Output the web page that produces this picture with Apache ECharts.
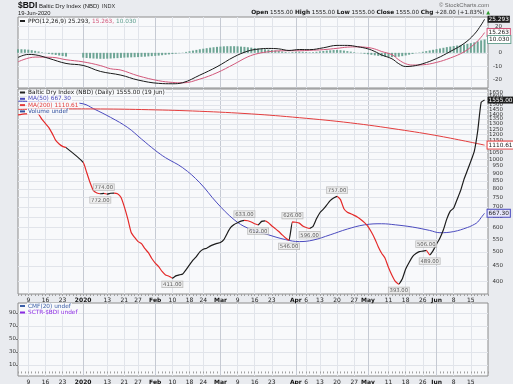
<!DOCTYPE html>
<html><head><meta charset="utf-8">
<script src="https://cdn.jsdelivr.net/npm/echarts@6/dist/echarts.min.js"></script>
<style>html,body{margin:0;padding:0;background:#e9ebef}#c{width:513px;height:384px}</style>
</head><body><div id="c"></div>
<script>
// ---------- axis domain (US trading calendar) ----------
const firstDay = '2019-12-04', lastDay = '2020-06-22';
const holidays = ['2019-12-25','2020-01-01','2020-01-20','2020-02-17','2020-04-10','2020-05-25'];
function tradingDays(from, to, skip) {
  const out = [], d = new Date(from + 'T00:00:00Z'), end = new Date(to + 'T00:00:00Z');
  while (d <= end) {
    const wd = d.getUTCDay(), s = d.toISOString().slice(0, 10);
    if (wd !== 0 && wd !== 6 && skip.indexOf(s) < 0) out.push(s);
    d.setUTCDate(d.getUTCDate() + 1);
  }
  return out;
}
const dates = tradingDays(firstDay, lastDay, holidays);

const tickDates = ['2019-12-09','2019-12-16','2019-12-23','2020-01-02','2020-01-13','2020-01-21','2020-01-27','2020-02-03','2020-02-10','2020-02-18','2020-02-24','2020-03-02','2020-03-09','2020-03-16','2020-03-23','2020-04-01','2020-04-06','2020-04-13','2020-04-20','2020-04-27','2020-05-01','2020-05-11','2020-05-18','2020-05-26','2020-06-01','2020-06-08','2020-06-15'];
const tickLabels = ['9','16','23','2020','13','21','27','Feb','10','18','24','Mar','9','16','23','Apr','6','13','20','27','May','11','18','26','Jun','8','15'];
const monthStarts = ['2020-01-02','2020-02-03','2020-03-02','2020-04-01','2020-05-01','2020-06-01'];
const priceTicks = [400,450,500,550,600,650,700,750,800,850,900,950,1000,1050,1100,1150,1200,1250,1300,1350,1400,1450,1500,1550,1600,1650];
const ppoTicks = [-20,-10,0,10,20];
const pctTicks = [10,30,50,70,90];

// ---------- Baltic Dry Index close ----------
const bdi = [
['2019-12-04',1392],['2019-12-05',1398],['2019-12-06',1402],['2019-12-09',1405],['2019-12-10',1410],['2019-12-11',1412],['2019-12-12',1400],['2019-12-13',1345],['2019-12-16',1305],['2019-12-17',1266],['2019-12-18',1210],['2019-12-19',1150],['2019-12-20',1120],['2019-12-23',1100],['2019-12-24',1090],
['2020-01-02',976],['2020-01-03',907],['2020-01-06',840],['2020-01-07',790],['2020-01-08',776],['2020-01-09',772],['2020-01-10',774],['2020-01-13',770],['2020-01-14',775],['2020-01-15',776],['2020-01-16',772],['2020-01-17',752],['2020-01-21',700],['2020-01-22',640],['2020-01-23',578],['2020-01-24',557],['2020-01-27',540],['2020-01-28',532],['2020-01-29',512],['2020-01-30',497],['2020-01-31',476],
['2020-02-03',460],['2020-02-04',448],['2020-02-05',432],['2020-02-06',421],['2020-02-07',417],['2020-02-10',411],['2020-02-11',418],['2020-02-12',421],['2020-02-13',424],['2020-02-14',438],['2020-02-18',454],['2020-02-19',470],['2020-02-20',483],['2020-02-21',500],['2020-02-24',510],['2020-02-25',514],['2020-02-26',522],['2020-02-27',528],['2020-02-28',533],
['2020-03-02',536],['2020-03-03',548],['2020-03-04',575],['2020-03-05',600],['2020-03-06',614],['2020-03-09',622],['2020-03-10',629],['2020-03-11',633],['2020-03-12',631],['2020-03-13',625],['2020-03-16',617],['2020-03-17',612],['2020-03-18',628],['2020-03-19',630],['2020-03-20',622],['2020-03-23',607],['2020-03-24',595],['2020-03-25',582],['2020-03-26',568],['2020-03-27',555],['2020-03-30',546],['2020-03-31',626],
['2020-04-01',624],['2020-04-02',620],['2020-04-03',607],['2020-04-06',600],['2020-04-07',596],['2020-04-08',605],['2020-04-09',640],['2020-04-13',670],['2020-04-14',688],['2020-04-15',710],['2020-04-16',733],['2020-04-17',748],['2020-04-20',757],['2020-04-21',739],['2020-04-22',690],['2020-04-23',672],['2020-04-24',665],['2020-04-27',657],['2020-04-28',648],['2020-04-29',636],['2020-04-30',622],
['2020-05-01',605],['2020-05-04',580],['2020-05-05',552],['2020-05-06',520],['2020-05-07',495],['2020-05-08',477],['2020-05-11',445],['2020-05-12',420],['2020-05-13',401],['2020-05-14',393],['2020-05-15',408],['2020-05-18',440],['2020-05-19',462],['2020-05-20',483],['2020-05-21',494],['2020-05-22',501],['2020-05-26',503],['2020-05-27',506],['2020-05-28',489],['2020-05-29',505],
['2020-06-01',530],['2020-06-02',555],['2020-06-03',590],['2020-06-04',640],['2020-06-05',678],['2020-06-08',694],['2020-06-09',740],['2020-06-10',790],['2020-06-11',860],['2020-06-12',920],['2020-06-15',985],['2020-06-16',1060],['2020-06-17',1234],['2020-06-18',1527],['2020-06-19',1555]
];
// direction of each leg of the price line, from its start date
const legs = [['2019-12-04','down'],['2019-12-24','gap'],['2020-01-02','down'],['2020-01-09','up'],['2020-01-10','down'],['2020-01-13','up'],['2020-01-15','down'],['2020-02-10','up'],['2020-03-11','down'],['2020-03-17','up'],['2020-03-19','down'],['2020-03-30','up'],['2020-03-31','down'],['2020-04-07','up'],['2020-04-20','down'],['2020-05-14','up'],['2020-05-27','down'],['2020-05-28','up']];
// labelled turning points
const pivots = [['2020-01-09','low'],['2020-01-10','high'],['2020-02-10','low'],['2020-03-11','high'],['2020-03-17','low'],['2020-03-30','low'],['2020-03-31','high'],['2020-04-07','low'],['2020-04-20','high'],['2020-05-14','low'],['2020-05-27','high'],['2020-05-28','low']];

const ma50 = [['2019-12-04',1542],['2019-12-12',1536],['2019-12-24',1528],['2020-01-02',1512],['2020-01-07',1458],['2020-01-14',1366],['2020-01-22',1266],['2020-01-28',1162],['2020-02-03',1068],['2020-02-06',1011],['2020-02-13',938],['2020-02-21',838],['2020-02-28',721],['2020-03-06',636],['2020-03-12',597],['2020-03-20',568],['2020-03-27',548],['2020-04-02',540],['2020-04-08',546],['2020-04-16',568],['2020-04-23',593],['2020-04-30',612],['2020-05-07',617],['2020-05-13',612],['2020-05-20',602],['2020-05-28',587],['2020-06-02',577],['2020-06-08',582],['2020-06-12',600],['2020-06-16',614],['2020-06-17',625],['2020-06-18',646],['2020-06-19',667.30]];
const ma200 = [['2019-12-04',1450],['2019-12-23',1456],['2020-01-09',1455],['2020-01-30',1447],['2020-02-21',1430],['2020-03-13',1402],['2020-04-02',1363],['2020-04-24',1311],['2020-05-14',1248],['2020-06-02',1187],['2020-06-19',1110.61]];

// ---------- PPO(12,26,9) ----------
const ppoLine = [['2019-12-04',-3.5],['2019-12-09',-1.2],['2019-12-11',-1.5],['2019-12-17',-4.2],['2019-12-24',-8.0],['2020-01-02',-9.5],['2020-01-09',-14.0],['2020-01-17',-16.8],['2020-01-27',-20.5],['2020-02-04',-23.0],['2020-02-10',-23.3],['2020-02-13',-22.5],['2020-02-21',-16.8],['2020-02-28',-10.5],['2020-03-06',-3.0],['2020-03-12',1.3],['2020-03-17',2.8],['2020-03-20',3.3],['2020-03-25',3.0],['2020-03-30',1.8],['2020-04-02',2.5],['2020-04-07',2.4],['2020-04-14',3.8],['2020-04-20',5.6],['2020-04-23',5.6],['2020-04-28',4.6],['2020-05-01',3.0],['2020-05-05',1.0],['2020-05-07',-1.6],['2020-05-12',-4.5],['2020-05-14',-8.2],['2020-05-18',-10.3],['2020-05-20',-10.0],['2020-05-26',-8.2],['2020-06-01',-4.3],['2020-06-05',1.0],['2020-06-11',7.0],['2020-06-16',14.0],['2020-06-18',21.0],['2020-06-19',25.293]];
const ppoSignal = [['2019-12-04',-6.8],['2019-12-11',-3.2],['2019-12-18',-3.4],['2019-12-24',-5.2],['2020-01-02',-6.8],['2020-01-09',-9.6],['2020-01-14',-12.0],['2020-01-17',-13.0],['2020-01-27',-17.3],['2020-02-04',-21.0],['2020-02-10',-22.3],['2020-02-13',-22.6],['2020-02-21',-19.8],['2020-02-28',-15.0],['2020-03-06',-8.5],['2020-03-12',-3.0],['2020-03-17',-0.5],['2020-03-20',0.8],['2020-03-25',1.5],['2020-03-30',1.6],['2020-04-02',1.6],['2020-04-07',1.9],['2020-04-14',2.4],['2020-04-20',3.4],['2020-04-23',4.3],['2020-04-28',4.5],['2020-05-01',4.0],['2020-05-05',2.9],['2020-05-07',1.0],['2020-05-12',-1.4],['2020-05-14',-5.3],['2020-05-18',-8.2],['2020-05-20',-9.2],['2020-05-26',-9.0],['2020-06-01',-7.2],['2020-06-05',-3.9],['2020-06-11',0.7],['2020-06-16',6.5],['2020-06-18',11.8],['2020-06-19',15.263]];
// histogram, one value per trading day from 2019-12-04
const ppoHist = [
2.7,2.7,2.6,2.4, 2.0,1.5,1.0,0.4, -0.3,-0.8,-1.2,-1.6,-2.0,-2.4,-2.8, null,null,null,null,
-3.6,-3.9,-4.1,-4.3,-4.4,-4.5,-4.5,-4.4,-4.3, -4.1,-4.0,-3.8,-3.6,-3.5,-3.4,-3.3,-3.2,-3.0,-2.9,
-2.7,-2.5,-2.3,-2.1,-1.8,-1.5,-1.2,-0.9,-0.6,-0.3, 0.2,0.7,1.2,1.7,2.2,2.7,3.1,3.5,3.9,4.2,4.5,
4.7,4.9,5.0,5.0,5.0,4.9,4.7,4.5,4.2,3.9,3.6,3.3, 3.0,2.7,2.4,2.1,1.8,1.4,1.0,0.6,0.3,0.6,0.8,0.9,
0.8,0.6,0.4,0.5,0.8,1.1,1.4,1.7,1.9,2.1,2.2, 2.0,1.7,1.3,0.9,0.5,0.1,-0.3,-0.7,-1.1,-1.5,-1.9,
-2.3,-2.6,-2.9,-3.1,-3.2,-3.1,-2.9,-2.5,-2.0,-1.4,-0.8, -0.2,0.3,0.8,1.3,1.8,2.3,2.8,3.3,3.8,4.3,4.7,
5.1,5.5,5.9,6.3,6.8,7.3,7.9,8.6,9.4,10.03
];

// ---------- rendering ----------
const FONT = 'DejaVu Sans';
const SANS = 'Liberation Sans';
const panelBg = '#f8f9fb', gridCol = '#e1e4ea', monthCol = '#c6cad3', borderCol = '#8c8c8c';
const dirColor = {down:'#e42a2a', up:'#1c1c1c', gap:'#1c1c1c'};
const bdiMap = {}; bdi.forEach(p => bdiMap[p[0]] = p[1]);
const lastBdi = bdi[bdi.length - 1], prevBdi = bdi[bdi.length - 2];
const chg = lastBdi[1] - prevBdi[1];
const last = a => a[a.length - 1][1];
const lastDate = lastBdi[0];
const lastHist = ppoHist[ppoHist.length - 1];
const tickSet = new Set(tickDates);
const fmtTick = v => { const t = tickLabels[tickDates.indexOf(v)]; return monthStarts.indexOf(v) >= 0 ? '{b|' + t + '}' : t; };

const pieces = legs.map((l, k) => {
  const a = dates.indexOf(l[0]);
  if (k < legs.length - 1) return {gte: a, lt: dates.indexOf(legs[k + 1][0]), color: dirColor[l[1]]};
  return {gte: a, lte: dates.length, color: dirColor[l[1]]};
});

function xAx(gi, labels) {
  return {
    type: 'category', gridIndex: gi, data: dates, boundaryGap: false,
    axisLine: {show: false},
    axisTick: {show: labels, interval: 0, length: 2, lineStyle: {color: '#a0a0a0', width: 1}},
    axisLabel: {show: labels, interval: (i, v) => tickSet.has(v), formatter: fmtTick, fontFamily: FONT, fontSize: 6, color: '#222', margin: 3,
      rich: {b: {fontFamily: FONT, fontSize: 6, fontWeight: 'bold', color: '#111'}}},
    splitLine: {show: true, interval: (i, v) => tickSet.has(v), lineStyle: {color: gridCol, width: 1}}
  };
}
function monthLines(xi, yi) {
  return {type: 'line', xAxisIndex: xi, yAxisIndex: yi, data: [], z: 1, silent: true,
    markLine: {z: 1, silent: true, symbol: 'none', animation: false, label: {show: false},
      lineStyle: {color: monthCol, width: 1, type: 'solid'}, data: monthStarts.map(d => ({xAxis: d}))}};
}
function boxLabel(text, bg, border, color) {
  return {show: true, formatter: text, backgroundColor: bg, borderColor: border, borderWidth: border ? 1 : 0,
    color: color, fontFamily: FONT, fontSize: 5.8, padding: [1, 1, 0, 1], distance: 3};
}

const gridBase = {left: 18, right: 25, show: true, backgroundColor: panelBg, borderColor: borderCol, borderWidth: 1, containLabel: false, outerBoundsMode: 'none'};

function legendLine(x, y, color, text, rich) {
  return [
    {type: 'rect', z: 101, shape: {x: x, y: y - 1, width: 5, height: 2}, style: {fill: color}},
    {type: 'text', z: 101, x: x + 7, y: y, style: {text: text, fill: color, font: '5.8px ' + FONT, textVerticalAlign: 'middle', backgroundColor: panelBg, padding: [0, 1], rich: rich}}
  ];
}

const richPPO = {
  k: {fill: '#222', font: '5.8px ' + FONT}, s: {fill: '#d2577a', font: '5.8px ' + FONT}, h: {fill: '#5e9e8e', font: '5.8px ' + FONT}
};

const graphic = [
  {type: 'text', z: 101, x: 18, y: 6, style: {text: '$BDI', font: 'bold 8.5px ' + SANS, fill: '#111', textVerticalAlign: 'middle'}},
  {type: 'text', z: 101, x: 39, y: 6.5, style: {text: 'Baltic Dry Index (NBD)', font: '6px ' + SANS, fill: '#222', textVerticalAlign: 'middle'}},
  {type: 'text', z: 101, x: 102, y: 6.5, style: {text: 'INDX', font: '5.5px ' + SANS, fill: '#333', textVerticalAlign: 'middle'}},
  {type: 'text', z: 101, x: 18, y: 13, style: {text: '19-Jun-2020', font: '5.8px ' + SANS, fill: '#222', textVerticalAlign: 'middle'}},
  {type: 'text', z: 101, x: 489, y: 5, style: {text: '© StockCharts.com', font: '5.8px ' + SANS, fill: '#666', textAlign: 'right', textVerticalAlign: 'middle'}},
  {type: 'text', z: 101, x: 490, y: 12.7, style: {
    text: '{b|Open} ' + lastBdi[1].toFixed(2) + ' {b|High} ' + lastBdi[1].toFixed(2) + ' {b|Low} ' + lastBdi[1].toFixed(2) + ' {b|Close} ' + lastBdi[1].toFixed(2) + ' {b|Chg} +' + chg.toFixed(2) + ' (+' + (chg / prevBdi[1] * 100).toFixed(2) + '%) {g|▲}',
    font: '5.6px ' + FONT, fill: '#222', textAlign: 'right', textVerticalAlign: 'middle',
    rich: {b: {font: 'bold 5.8px ' + FONT, fill: '#111'}, g: {font: '5px ' + FONT, fill: '#2a9a2a'}}}},
  ...legendLine(20, 21, '#222', '{k|PPO(12,26,9) ' + last(ppoLine).toFixed(3) + ',} {s|' + last(ppoSignal).toFixed(3) + ',} {h|' + lastHist.toFixed(3) + '}', richPPO),
  ...legendLine(20, 92.5, '#222', 'Baltic Dry Index (NBD) (Daily) ' + lastBdi[1].toFixed(2) + ' (19 Jun)'),
  ...legendLine(20, 98.8, '#4b4bbf', 'MA(50) ' + last(ma50).toFixed(2)),
  ...legendLine(20, 105.1, '#e43d3d', 'MA(200) ' + last(ma200).toFixed(2)),
  ...legendLine(20, 111.4, '#2f4f9f', 'Volume undef'),
  ...legendLine(20, 306, '#3b5fa8', 'CMF(20) undef'),
  ...legendLine(20, 312.5, '#8a2be2', 'SCTR-$BDI undef')
];

const option = {
  animation: false,
  backgroundColor: '#e9ebef',
  textStyle: {fontFamily: FONT},
  grid: [
    Object.assign({top: 17, height: 71}, gridBase),
    Object.assign({top: 89, height: 205}, gridBase),
    Object.assign({top: 303, height: 73}, gridBase)
  ],
  xAxis: [xAx(0, false), xAx(1, true), xAx(2, true)],
  yAxis: [
    {type: 'value', gridIndex: 0, position: 'right', min: -26.5, max: 27, axisLine: {show: false},
      axisTick: {show: false, customValues: ppoTicks},
      axisLabel: {customValues: ppoTicks, fontFamily: FONT, fontSize: 5.5, color: '#333', margin: 14, align: 'right'},
      splitLine: {show: true, lineStyle: {color: gridCol}}},
    {type: 'log', gridIndex: 1, position: 'right', min: 365, max: 1689, axisLine: {show: false}, axisTick: {show: false},
      axisLabel: {show: false}, splitLine: {show: false}},
    {type: 'value', gridIndex: 2, position: 'left', min: -7, max: 105.5, axisLine: {show: false},
      axisTick: {show: true, customValues: pctTicks, length: 2, lineStyle: {color: '#777'}},
      axisLabel: {customValues: pctTicks, fontFamily: FONT, fontSize: 5.5, color: '#333', margin: 2},
      splitLine: {show: true, lineStyle: {color: gridCol}}}
  ],
  visualMap: [{type: 'piecewise', show: false, dimension: 0, seriesIndex: 6, pieces: pieces}],
  graphic: graphic,
  series: [
    // 0 month lines, PPO panel
    monthLines(0, 0),
    // 1 PPO histogram
    {type: 'bar', xAxisIndex: 0, yAxisIndex: 0, data: ppoHist, barWidth: 2, itemStyle: {color: '#6ea595'}, z: 3, silent: true,
      markPoint: {z: 9, symbol: 'rect', symbolSize: 1, itemStyle: {color: 'rgba(0,0,0,0)'}, silent: true, animation: false,
        label: Object.assign(boxLabel(lastHist.toFixed(3), '#ffffff', '#6ea595', '#222'), {position: 'right'}),
        data: [{coord: [lastDate, lastHist]}]}},
    // 2 signal
    {type: 'line', xAxisIndex: 0, yAxisIndex: 0, data: ppoSignal, symbol: 'none', smooth: 0.4, z: 4,
      lineStyle: {color: '#d2577a', width: 1}, endLabel: boxLabel(last(ppoSignal).toFixed(3), '#ffffff', '#d2577a', '#222')},
    // 3 PPO
    {type: 'line', xAxisIndex: 0, yAxisIndex: 0, data: ppoLine, symbol: 'none', smooth: 0.4, z: 5,
      lineStyle: {color: '#1a1a1a', width: 1}, endLabel: boxLabel(last(ppoLine).toFixed(3), '#1d1d1d', null, '#ffffff')},
    // 4 month lines + price grid/labels, main panel
    monthLines(1, 1),
    {type: 'line', xAxisIndex: 1, yAxisIndex: 1, data: [], z: 1, silent: true,
      markLine: {z: 1, silent: true, symbol: 'none', animation: false, lineStyle: {color: gridCol, width: 1, type: 'solid'},
        label: {show: true, position: 'end', formatter: p => String(p.value), fontFamily: FONT, fontSize: 5.5, color: '#333', align: 'right', distance: 15},
        data: priceTicks.map(v => ({yAxis: v}))}},
    // 6 BDI
    {type: 'line', xAxisIndex: 1, yAxisIndex: 1, data: bdi, symbol: 'none', smooth: 0.15, z: 7,
      lineStyle: {width: 1.2}, endLabel: boxLabel(lastBdi[1].toFixed(2), '#1d1d1d', null, '#ffffff')},
    // 7 MA50
    {type: 'line', xAxisIndex: 1, yAxisIndex: 1, data: ma50, symbol: 'none', smooth: 0.4, z: 6,
      lineStyle: {color: '#4b4bbf', width: 1}, endLabel: boxLabel(last(ma50).toFixed(2), '#e6e6fa', '#4b4bbf', '#222')},
    // 8 MA200
    {type: 'line', xAxisIndex: 1, yAxisIndex: 1, data: ma200, symbol: 'none', smooth: 0.4, z: 6,
      lineStyle: {color: '#e43d3d', width: 1}, endLabel: boxLabel(last(ma200).toFixed(2), '#ffffff', '#e43d3d', '#222')},
    // 9 pivot labels
    {type: 'scatter', xAxisIndex: 1, yAxisIndex: 1, symbolSize: 0.5, z: 8, silent: true, itemStyle: {color: 'rgba(0,0,0,0)'},
      label: {show: true, formatter: p => p.value[1].toFixed(2), fontFamily: FONT, fontSize: 5.3, color: '#333',
        backgroundColor: '#ececec', borderColor: '#a8a8a8', borderWidth: 0.6, padding: [1, 1, 0, 1], distance: 3},
      data: pivots.map(p => ({value: [p[0], bdiMap[p[0]]], label: {position: p[1] === 'high' ? 'top' : 'bottom'}}))},
    // 10 bottom panel
    monthLines(2, 2)
  ]
};
const chart = echarts.init(document.getElementById('c'), null, {width: 513, height: 384});
chart.setOption(option);
</script>
</body></html>
